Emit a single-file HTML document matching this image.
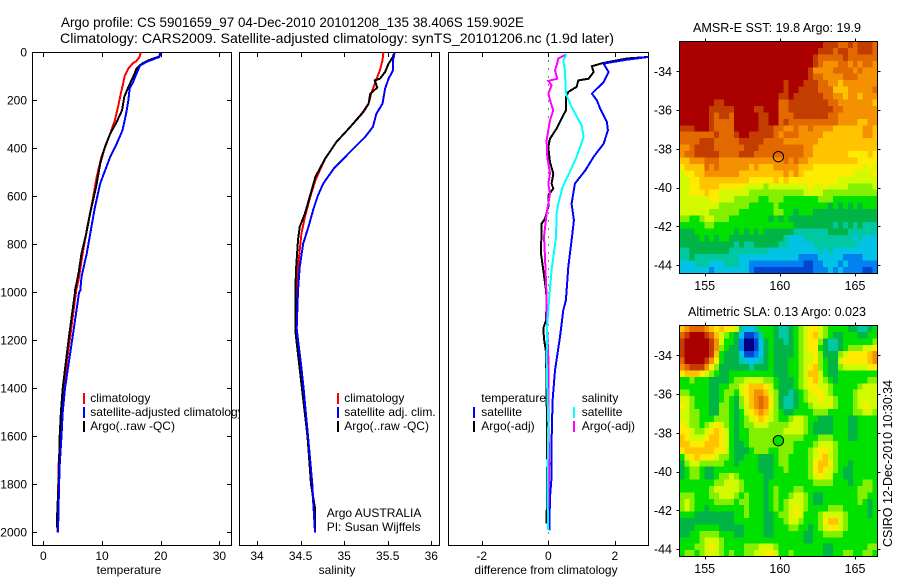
<!DOCTYPE html>
<html>
<head>
<meta charset="utf-8">
<title>Argo profile</title>
<style>
html,body{margin:0;padding:0;background:#fff;}
svg{display:block;}
text{font-family:"Liberation Sans",sans-serif;font-size:12px;fill:#000;}
</style>
</head>
<body>
<svg id="chart" xmlns="http://www.w3.org/2000/svg" width="900" height="580" viewBox="0 0 900 580">
<rect x="0" y="0" width="900" height="580" fill="#fff"/>
<text x="61" y="27" style="font-size:14px" textLength="463" lengthAdjust="spacingAndGlyphs">Argo profile: CS 5901659_97 04-Dec-2010 20101208_135 38.406S 159.902E</text>
<text x="60" y="43" style="font-size:14px" textLength="554" lengthAdjust="spacingAndGlyphs">Climatology: CARS2009. Satellite-adjusted climatology: synTS_20101206.nc (1.9d later)</text>
<g id="layer-panels"></g>
<g id="layer-maps"></g>
<text x="693" y="32" textLength="168" lengthAdjust="spacingAndGlyphs" style="font-size:12.5px">AMSR-E SST: 19.8 Argo: 19.9</text>
<text x="688" y="316" textLength="178" lengthAdjust="spacingAndGlyphs" style="font-size:12.5px">Altimetric SLA: 0.13 Argo: 0.023</text>
<text transform="translate(892,547) rotate(-90)" x="0" y="0" textLength="167" lengthAdjust="spacingAndGlyphs" style="font-size:12.5px">CSIRO 12-Dec-2010 10:30:34</text>
</svg>
<script>
// ---------- profile data ----------
const depthTicks = [0,200,400,600,800,1000,1200,1400,1600,1800,2000];
const tempTicks = [0,10,20,30];
const salTicks = [34,34.5,35,35.5,36];
const diffTicks = [-2,0,2];

const climTempDepth = [0,19,36,47,68,96,131,172,221,283,339,436,519,617,728,825,950,992,1200,1400,1500,1600,1720,2000];
const climTemp = [16.6,16.4,15.9,15.2,14.5,13.9,13.6,13.2,12.8,12.2,11.4,9.9,9.1,8.4,7.5,6.8,6.0,5.6,4.5,3.4,3.1,2.9,2.6,2.4];
const satTempDepth = [0,19,40,54,82,124,151,200,256,325,381,436,513,547,644,728,839,936,992,1000,1200,1400,1500,1600,1720,1800,2000];
const satTemp = [20.0,19.8,17.6,16.5,16.0,15.3,14.7,14.5,14.1,13.5,12.5,11.4,10.2,9.7,8.8,8.2,7.4,6.5,6.3,6.1,4.9,3.7,3.3,3.1,2.8,2.7,2.5];
const argoTempDepth = [0,17,31,47,68,103,144,186,242,290,339,394,464,561,658,756,839,922,992,1000,1200,1400,1500,1600,1700,1800,1900,1980];
const argoTemp = [19.9,19.8,18.2,16.8,15.9,15.3,14.5,13.8,13.4,12.5,11.4,10.5,9.7,9.0,8.1,7.3,6.5,6.0,5.4,5.4,4.3,3.3,3.0,2.8,2.7,2.6,2.4,2.3];

const climSalDepth = [0,33,75,131,172,214,256,311,374,444,533,603,686,756,894,992,1150,1200,1300,1400,1500,1600,1700,1800,1900,2000];
const climSal = [35.45,35.44,35.41,35.35,35.31,35.28,35.20,35.07,34.91,34.78,34.67,34.61,34.55,34.51,34.47,34.455,34.45,34.47,34.49,34.53,34.56,34.585,34.61,34.63,34.65,34.665];
const satSalDepth = [0,33,75,110,151,214,256,311,353,429,485,547,596,651,728,797,894,992,1150,1200,1300,1400,1500,1600,1700,1800,1900,2000];
const satSal = [35.58,35.56,35.56,35.51,35.47,35.44,35.37,35.33,35.24,35.03,34.88,34.76,34.70,34.65,34.59,34.53,34.49,34.47,34.455,34.47,34.505,34.535,34.56,34.585,34.61,34.635,34.65,34.665];
const argoSalDepth = [6,19,47,82,110,117,147,172,214,249,311,374,444,519,596,672,728,783,894,992,1160,1600,1700,1800,1900,2000];
const argoSal = [35.57,35.56,35.51,35.47,35.41,35.35,35.38,35.30,35.28,35.22,35.07,34.91,34.78,34.67,34.61,34.55,34.49,34.47,34.45,34.44,34.44,34.58,34.60,34.62,34.665,34.665];

const diffArgoTempDepth = [19,26,44,58,82,110,117,144,165,186,242,276,318,360,394,457,506,547,568,596,644,693,714,839,908,992,1033,1117,1150,1193,1249,1408,1714,1964];
const diffArgoTemp = [3.02,2.36,1.66,1.31,1.36,1.21,0.90,0.85,0.60,0.53,0.53,0.40,0.25,0.05,0,0.05,0.15,0.10,0.15,0,0,-0.10,-0.20,-0.22,-0.15,-0.07,-0.05,-0.07,-0.15,-0.13,-0.07,-0.05,-0.03,-0.05];
const diffSatTempDepth = [19,31,47,82,124,172,200,235,290,325,381,436,492,547,631,700,783,894,1033,1075,1186,1325,1450,1617,1769,1853,1992];
const diffSatTemp = [3.02,2.36,1.66,1.81,1.66,1.31,1.46,1.56,1.76,1.79,1.66,1.36,1.11,0.80,0.70,0.77,0.70,0.60,0.53,0.45,0.35,0.20,0.13,0.10,0.10,0.05,0.03];
const diffArgoSalDepth = [8,26,54,75,110,119,138,172,207,242,283,367,436,506,547,589,672,769,853,1019,1103,1269,1547,1714,1900];
const diffArgoSal = [0.55,0.30,0.25,0.20,0.27,0,0.10,0,0.07,0.15,0.05,-0.05,-0.03,0.05,0,0.05,-0.05,-0.13,-0.10,-0.05,-0.05,0,0,0.03,0];
const diffSatSalDepth = [8,33,75,172,228,304,353,436,512,561,631,672,769,908,1019,1131,1269,1408,1547,1825,1992];
const diffSatSal = [0.55,0.45,0.50,0.53,0.70,1.0,1.06,0.85,0.60,0.43,0.30,0.25,0.23,0.10,0.03,-0.03,-0.05,-0.03,0,-0.03,0];

// ---------- map data: colour-scale level per grid cell (north to south) ----------
const lonTicks = [155,160,165];
const latTicks = [-34,-36,-38,-40,-42,-44];
const sstLevels = [
[14,14,14,14,14,14,14,14,14,14,14,14,14,14,14,14,14,14,14,14,14,14,14,14,14,14,14,14,14,13,13,13,12,12,13,12,13,13,13,12],
[14,14,14,14,14,14,14,14,14,14,14,14,14,14,14,14,14,14,14,14,14,14,14,14,14,14,14,14,13,13,13,12,13,13,12,12,13,13,13,12],
[14,14,14,14,14,14,14,14,14,14,14,14,14,14,14,14,14,14,14,14,14,14,14,14,14,14,14,13,12,12,12,12,12,13,12,12,12,12,12,12],
[14,14,14,14,14,14,14,14,14,14,14,14,14,14,14,14,14,14,14,14,14,14,14,14,14,14,14,13,12,11,11,11,12,12,11,12,11,12,12,11],
[14,14,14,14,14,14,14,14,14,14,14,14,14,14,14,14,14,14,14,14,14,14,14,14,14,14,13,11,11,11,11,12,12,12,12,11,12,11,11,11],
[14,14,14,14,14,14,14,14,14,14,14,14,14,14,14,14,14,14,14,14,14,14,14,14,14,14,13,12,12,11,11,11,11,12,12,12,11,11,11,11],
[14,14,14,14,14,14,14,14,14,14,14,14,14,14,14,14,14,14,14,14,14,13,14,14,14,13,13,13,12,12,11,11,10,11,11,11,11,11,11,11],
[14,14,14,14,14,14,14,14,14,14,14,14,14,14,14,14,14,14,14,14,14,13,14,14,13,13,13,13,12,12,12,10,10,10,11,11,11,11,11,12],
[14,14,14,14,14,14,14,14,14,14,14,14,14,14,14,14,14,14,14,14,13,13,14,13,13,13,13,13,13,12,12,11,11,10,11,11,10,11,11,11],
[14,14,14,14,14,14,14,13,13,14,14,14,14,14,14,14,14,14,14,14,12,12,13,13,13,13,13,13,13,13,12,12,11,11,11,11,11,11,11,10],
[14,14,14,14,14,14,13,13,13,13,13,14,14,14,14,13,13,14,14,14,12,12,13,13,13,13,13,13,13,13,13,12,12,11,11,11,11,11,11,11],
[14,14,14,14,14,14,13,12,13,13,12,14,14,14,14,14,13,13,14,14,12,12,12,13,13,13,13,13,13,13,12,12,11,11,11,11,11,11,11,11],
[14,14,14,14,14,14,13,12,12,12,12,14,14,14,14,14,13,13,14,14,12,13,12,12,12,12,12,12,12,12,12,12,11,11,11,11,10,10,11,11],
[13,13,13,14,14,14,13,12,12,12,12,14,14,14,14,14,13,13,13,12,12,11,11,12,11,11,12,11,11,11,11,10,10,10,10,10,10,11,11,10],
[12,12,12,12,12,12,12,13,12,12,12,13,14,14,13,13,13,13,13,12,11,12,12,12,11,11,11,11,11,10,10,10,10,10,10,10,10,11,11,10],
[12,12,12,12,13,13,13,12,12,12,12,12,13,13,13,13,13,12,12,12,12,11,11,11,11,11,11,11,10,10,10,10,10,10,10,10,10,10,10,10],
[11,11,12,13,13,13,13,12,12,12,12,12,12,13,13,13,12,12,12,12,12,12,12,12,12,11,11,10,10,10,10,10,10,10,10,10,10,10,10,10],
[11,12,12,13,13,13,13,13,12,12,12,12,13,13,13,12,12,12,12,12,12,12,12,12,12,11,11,10,10,10,10,10,10,10,9,9,9,9,10,9],
[10,10,11,11,11,12,12,12,11,11,11,11,11,11,11,11,11,11,11,11,11,12,11,12,11,11,10,10,10,10,10,10,10,10,10,10,9,9,9,9],
[9,10,10,10,10,12,11,12,11,11,11,11,11,11,10,11,10,10,10,11,11,11,11,11,10,10,10,9,9,9,9,9,9,9,9,9,9,8,9,8],
[8,9,9,10,10,11,11,11,11,11,11,11,10,10,10,10,10,10,10,10,10,11,10,11,10,9,9,9,9,9,9,9,9,9,9,8,8,8,8,9],
[8,8,9,9,10,10,10,10,10,10,10,10,10,10,9,9,9,9,9,10,9,10,9,9,9,9,9,9,9,9,9,9,8,8,8,8,8,8,8,8],
[8,8,9,9,10,10,10,10,9,9,9,9,9,8,8,8,8,7,8,8,8,8,8,8,8,8,9,8,8,9,8,8,8,8,7,7,7,7,7,8],
[8,8,9,9,9,10,9,9,8,8,8,8,8,8,7,7,7,7,7,7,7,7,7,7,7,8,8,8,8,7,7,7,7,7,7,7,7,7,7,7],
[8,8,8,8,8,8,9,9,8,8,8,7,7,7,7,7,6,6,7,7,7,6,6,6,6,6,6,6,7,7,7,6,6,6,6,6,6,6,6,6],
[8,8,8,8,8,8,8,8,7,7,7,7,7,7,6,6,6,6,6,7,6,6,6,6,6,6,6,6,6,6,5,6,5,6,5,6,5,6,6,6],
[8,8,8,8,8,8,7,7,7,7,7,7,6,6,6,6,6,6,6,7,7,6,6,5,6,6,6,5,5,5,5,5,5,5,5,5,5,5,5,5],
[7,7,6,6,7,8,8,7,7,7,6,6,6,6,6,6,6,6,5,6,5,6,5,5,5,5,5,5,5,5,5,5,5,5,5,5,5,5,5,5],
[6,6,6,6,6,7,7,6,6,6,6,6,6,6,6,6,6,6,6,6,6,6,6,5,5,5,5,5,5,5,5,4,5,4,5,4,5,4,4,4],
[5,5,5,6,6,6,6,6,6,6,6,5,6,5,6,5,6,5,5,5,5,5,5,4,4,4,4,4,4,4,5,5,5,5,4,4,4,4,4,4],
[5,5,5,5,6,5,6,5,6,6,5,5,5,5,5,5,5,5,5,5,5,4,3,3,3,4,4,4,4,4,4,4,4,4,4,3,4,3,3,3],
[5,5,5,5,5,5,5,5,5,5,5,4,5,4,4,5,5,5,5,5,4,4,3,3,3,3,3,4,4,4,4,4,4,4,4,4,3,3,3,3],
[4,4,5,5,5,5,5,5,5,5,4,4,4,4,4,4,4,4,3,3,3,3,3,3,3,3,3,3,4,3,4,3,3,3,3,3,3,3,3,3],
[4,4,5,4,4,4,4,4,4,4,4,4,3,3,3,3,3,3,3,3,3,3,3,3,2,2,2,2,3,3,3,3,3,2,2,2,2,3,3,3],
[3,3,3,4,4,4,3,3,3,4,4,4,3,3,2,2,2,2,2,2,2,2,2,2,2,1,1,2,2,3,3,3,2,3,2,2,2,2,2,2],
[3,3,3,3,3,3,2,3,3,3,3,3,3,3,2,1,1,1,1,1,1,1,1,1,1,1,1,2,2,2,3,2,3,2,2,2,2,1,1,2]
];
const slaLevels = [
[10,11,12,12,12,11,10,9,10,9,9,8,4,3,3,4,6,6,6,5,4,4,5,6,7,8,9,9,8,7,6,6,6,6,5,5,4,4,5,6],
[12,13,14,14,14,13,12,10,8,7,6,5,3,1,1,2,4,6,6,5,4,4,5,6,7,8,9,10,8,7,6,5,5,6,6,6,5,5,6,6],
[13,14,14,14,14,14,13,11,8,6,6,5,2,0,0,1,3,5,6,5,5,4,5,6,7,8,9,9,7,5,4,4,5,6,6,6,6,6,6,7],
[13,14,14,14,14,14,13,11,7,6,5,5,2,0,0,1,3,5,6,5,5,5,5,6,7,8,9,9,6,5,4,4,5,6,7,7,7,8,8,9],
[13,14,14,14,14,14,13,10,6,5,5,5,3,1,1,2,3,5,6,5,5,5,5,6,7,8,8,9,7,5,5,5,7,8,9,9,9,9,10,11],
[12,14,14,14,14,13,11,9,6,5,5,5,4,3,3,3,4,5,6,5,5,5,6,6,7,8,8,9,7,6,5,5,8,9,9,9,9,9,10,11],
[11,12,13,13,13,11,9,7,5,5,5,5,5,5,4,5,5,5,6,5,5,5,6,6,7,8,9,10,7,6,5,5,7,8,8,8,8,8,9,9],
[9,10,10,10,9,8,7,6,5,5,6,6,6,6,6,6,6,6,6,5,5,5,6,6,7,8,10,10,8,6,5,5,6,6,6,6,6,6,6,6],
[6,6,7,6,6,6,5,5,5,5,6,7,7,8,8,8,8,7,7,6,5,5,5,6,7,8,9,10,8,7,6,5,6,6,6,6,6,6,7,7],
[6,6,6,6,6,6,5,5,6,6,7,7,8,9,10,10,10,9,8,6,5,5,5,6,7,8,9,9,8,8,7,6,6,6,6,6,7,8,8,8],
[7,7,6,6,6,6,5,5,6,7,7,6,8,9,10,11,11,10,8,7,5,5,4,5,6,7,8,9,9,8,7,6,6,6,6,7,8,8,8,8],
[8,8,7,6,6,6,5,5,6,7,6,5,7,9,10,11,12,11,9,7,5,4,4,5,6,7,8,8,9,8,8,7,6,6,6,7,8,8,8,8],
[9,8,7,6,6,6,5,5,7,7,6,5,7,8,10,11,12,11,9,7,5,4,4,5,6,6,7,8,8,8,8,7,6,6,6,7,8,9,8,8],
[8,8,7,7,6,6,5,5,7,7,6,5,6,8,9,10,11,10,8,7,6,5,5,6,6,6,6,7,7,7,6,6,6,6,6,7,7,8,8,7],
[8,8,7,7,6,6,6,7,7,7,6,5,6,7,8,9,10,9,8,7,6,6,7,8,8,7,6,6,5,5,5,6,6,6,5,5,6,6,6,6],
[9,8,7,7,6,7,8,9,8,7,6,5,6,7,7,8,8,8,7,7,7,7,8,8,8,7,6,5,5,5,5,6,6,6,5,5,6,6,6,6],
[9,9,8,7,7,8,9,10,9,8,6,5,6,6,7,7,7,7,7,7,7,8,8,8,8,7,6,5,5,5,5,6,6,6,5,5,6,6,6,6],
[10,9,8,8,8,9,10,10,9,8,6,5,6,6,7,7,7,7,7,7,7,7,7,7,7,6,6,6,7,7,7,6,6,6,5,5,6,6,6,6],
[10,10,9,9,9,10,10,10,9,8,6,5,5,6,7,7,7,7,7,7,7,7,7,6,6,6,6,7,8,8,8,7,6,6,6,6,6,6,6,6],
[9,10,10,10,10,10,10,9,9,8,6,5,5,5,6,7,7,7,6,6,7,7,7,6,6,6,7,8,9,9,8,7,6,6,6,6,6,6,6,6],
[6,8,9,10,9,9,9,8,7,7,6,5,5,6,6,6,5,5,5,6,7,7,6,6,6,6,7,8,9,10,8,7,6,6,6,6,6,6,6,6],
[5,7,8,8,7,7,7,7,7,6,6,5,6,6,6,6,5,5,5,6,7,7,6,6,6,6,7,9,10,10,9,7,6,6,5,6,6,6,6,6],
[5,6,7,7,6,5,5,6,6,6,6,6,6,6,6,6,5,5,5,6,6,7,6,6,6,6,7,9,10,9,8,7,6,5,5,6,6,6,6,6],
[5,6,7,7,6,5,5,6,7,7,8,7,6,6,6,6,6,5,5,6,6,6,6,6,6,6,7,8,9,8,8,6,6,5,5,6,6,6,6,6],
[6,6,6,6,6,6,6,7,7,8,8,8,7,6,6,6,6,5,6,6,6,6,6,6,6,6,6,7,7,7,7,6,6,6,5,6,6,7,7,6],
[6,6,6,6,6,6,7,8,8,8,8,8,7,6,6,6,6,5,6,7,6,6,6,7,7,6,6,6,6,6,6,6,6,6,6,6,7,7,7,6],
[7,7,7,6,6,6,7,7,8,8,8,7,6,7,6,6,6,5,6,7,6,6,7,8,8,7,6,5,5,6,6,6,6,6,6,6,7,7,6,6],
[7,8,7,6,6,6,6,7,7,7,7,6,7,7,6,6,6,5,6,7,6,7,8,8,8,7,6,5,5,6,6,6,6,6,6,6,7,6,5,6],
[7,8,7,6,6,5,6,6,6,6,6,6,6,7,6,6,6,5,6,7,6,7,8,9,8,7,6,6,6,6,7,7,7,6,6,6,6,6,5,6],
[6,6,6,5,5,5,5,5,5,5,5,6,6,7,6,6,6,5,5,6,7,7,8,9,8,6,6,6,7,8,8,8,8,7,6,6,6,6,5,6],
[5,5,5,5,5,5,5,5,5,5,5,6,6,6,6,6,6,5,5,6,6,7,8,8,7,6,6,6,7,9,10,10,8,7,6,6,6,6,6,6],
[5,5,5,6,6,6,6,6,5,5,5,5,5,6,6,6,6,5,5,6,6,6,7,7,6,6,5,6,7,8,9,9,8,7,6,6,6,6,6,6],
[5,5,6,6,7,7,7,7,6,6,6,5,5,6,6,6,6,5,5,6,6,6,6,6,6,5,5,6,6,7,7,7,7,6,6,6,6,6,6,6],
[6,6,6,6,7,8,8,8,7,6,6,6,6,6,6,6,6,6,6,6,6,6,6,6,6,5,5,6,6,6,6,6,6,6,6,6,6,6,6,6],
[6,6,6,7,7,8,9,8,7,6,6,6,6,7,7,7,8,8,8,7,6,6,6,6,6,6,6,6,6,5,5,6,6,6,6,6,6,6,7,7],
[6,7,7,6,7,8,8,8,7,6,7,6,6,7,7,8,8,9,9,8,6,6,7,6,6,6,6,6,6,5,5,6,6,7,7,6,6,7,7,6]
];
const floatLon = 159.902;
const floatLat = -38.406;
const floatSlaLevel = 6;

// colour scale for map levels 0..14
const levelColours = ['#000082','#0046d2','#0082f0','#00c3e6','#00c8a0','#00b446','#00e100','#82f000','#d2fa00','#ffeb00','#ffc300','#f59100','#e16900','#c33c00','#aa0000'];

const NS = 'http://www.w3.org/2000/svg';
const panelsLayer = document.getElementById('layer-panels');
const mapsLayer = document.getElementById('layer-maps');

function yDepth(d){ return 52.3 + d * 0.24; }
function xTemp(v){ return 43.3 + v * 5.87; }
function xSal(v){ return 257 + (v - 34) * 87.15; }
function xDiff(v){ return 548.3 + v * 33.3; }

function make(tag, attrs, parent){
  const el = document.createElementNS(NS, tag);
  for (const k in attrs) el.setAttribute(k, attrs[k]);
  parent.appendChild(el);
  return el;
}

function drawPanel(name, left, width, xScale, ticks, withDepthTicks, axisLabel, labelX){
  const g = make('g', {}, panelsLayer);
  
  
  const bg = make('rect', {x:left, y:52.5, width:width, height:493, fill:'#fff', stroke:'#000', 'stroke-width':1, 'shape-rendering':'crispEdges'}, g);
  
  
  ticks.forEach(function(t){
    const x = Math.round(xScale(t)) + 0.5;
    const top = make('line', {x1:x, x2:x, y1:52.5, y2:57, stroke:'#000', 'shape-rendering':'crispEdges'}, g);
    
    
    const bot = make('line', {x1:x, x2:x, y1:541, y2:545.5, stroke:'#000', 'shape-rendering':'crispEdges'}, g);
    
    
    const lab = make('text', {x:xScale(t), y:560, 'text-anchor':'middle'}, g);
    
    
    lab.textContent = String(t);
  });
  if (withDepthTicks){
    depthTicks.forEach(function(d){
      const y = Math.round(yDepth(d)) + 0.5;
      const a = make('line', {x1:left, x2:left + 4.5, y1:y, y2:y, stroke:'#000', 'shape-rendering':'crispEdges'}, g);
      
      
      const b = make('line', {x1:left + width - 4.5, x2:left + width, y1:y, y2:y, stroke:'#000', 'shape-rendering':'crispEdges'}, g);
      
      
      const lab = make('text', {x:27, y:yDepth(d) + 4, 'text-anchor':'end'}, g);
      
      
      lab.textContent = String(d);
    });
  }
  const title = make('text', {x:labelX, y:574, 'text-anchor':'middle'}, g);
  
  
  title.textContent = axisLabel;
  return g;
}

function drawSeries(parent, name, xs, depths, xScale, colour){
  const pts = xs.map(function(v, i){ return xScale(v).toFixed(1) + ',' + yDepth(depths[i]).toFixed(1); }).join(' ');
  const line = make('polyline', {points:pts, fill:'none', stroke:colour, 'stroke-width':2, 'shape-rendering':'crispEdges'}, parent);
  
  
}

function legendEntry(parent, name, barX, textX, baseline, colour, label){
  if (colour){
    const bar = make('rect', {x:barX, y:baseline - 9, width:2, height:11, fill:colour, 'shape-rendering':'crispEdges'}, parent);
    
    
  }
  const t = make('text', {x:textX, y:baseline}, parent);
  
  
  t.textContent = label;
}

// temperature panel
const pT = drawPanel('temperature', 32.5, 199, xTemp, tempTicks, true, 'temperature', 129);
drawSeries(pT, 'temperature-climatology-line', climTemp, climTempDepth, xTemp, '#ff0000');
drawSeries(pT, 'temperature-argo-line', argoTemp, argoTempDepth, xTemp, '#000000');
drawSeries(pT, 'temperature-satellite-line', satTemp, satTempDepth, xTemp, '#0000ff');
legendEntry(pT, 'legend-climatology', 83, 90.3, 402, '#ff0000', 'climatology');
legendEntry(pT, 'legend-satellite-adjusted', 83, 90.3, 416, '#0000ff', 'satellite-adjusted climatology');
legendEntry(pT, 'legend-argo', 83, 90.3, 430, '#000000', 'Argo(..raw -QC)');

// salinity panel
const pS = drawPanel('salinity', 239.5, 200, xSal, salTicks, false, 'salinity', 337);
drawSeries(pS, 'salinity-climatology-line', climSal, climSalDepth, xSal, '#ff0000');
drawSeries(pS, 'salinity-argo-line', argoSal, argoSalDepth, xSal, '#000000');
drawSeries(pS, 'salinity-satellite-line', satSal, satSalDepth, xSal, '#0000ff');
legendEntry(pS, 'legend-sal-climatology', 337, 344.3, 402, '#ff0000', 'climatology');
legendEntry(pS, 'legend-sal-satellite', 337, 344.3, 416, '#0000ff', 'satellite adj. clim.');
legendEntry(pS, 'legend-sal-argo', 337, 344.3, 430, '#000000', 'Argo(..raw -QC)');
legendEntry(pS, 'argo-australia-note', 0, 326.7, 517, null, 'Argo AUSTRALIA');
legendEntry(pS, 'pi-name-note', 0, 326.7, 531, null, 'PI: Susan Wijffels');

// difference panel
const pD = drawPanel('difference', 448.5, 200, xDiff, diffTicks, false, 'difference from climatology', 546);
const zeroLine = make('line', {x1:xDiff(0), x2:xDiff(0), y1:52.5, y2:545.5, stroke:'#000', 'stroke-dasharray':'1 7', 'shape-rendering':'crispEdges'}, pD);


const clipD = make('clipPath', {id:'clip-diff'}, pD);
make('rect', {x:448.5, y:52.5, width:200, height:493}, clipD);
const diffLines = make('g', {'clip-path':'url(#clip-diff)'}, pD);


drawSeries(diffLines, 'diff-temperature-argo-line', diffArgoTemp, diffArgoTempDepth, xDiff, '#000000');
drawSeries(diffLines, 'diff-temperature-satellite-line', diffSatTemp, diffSatTempDepth, xDiff, '#0000ff');
drawSeries(diffLines, 'diff-salinity-argo-line', diffArgoSal, diffArgoSalDepth, xDiff, '#ff00ff');
drawSeries(diffLines, 'diff-salinity-satellite-line', diffSatSal, diffSatSalDepth, xDiff, '#00ffff');
legendEntry(pD, 'legend-temperature-heading', 0, 481.3, 402, null, 'temperature');
legendEntry(pD, 'legend-diff-temp-satellite', 473, 481.3, 416, '#0000ff', 'satellite');
legendEntry(pD, 'legend-diff-temp-argo', 473, 481.3, 430, '#000000', 'Argo(-adj)');
legendEntry(pD, 'legend-salinity-heading', 0, 581.7, 402, null, 'salinity');
legendEntry(pD, 'legend-diff-sal-satellite', 573, 581.7, 416, '#00ffff', 'satellite');
legendEntry(pD, 'legend-diff-sal-argo', 573, 581.7, 430, '#ff00ff', 'Argo(-adj)');

// maps
function xLon(lon){ return 704.7 + (lon - 155) * 15.03; }

function drawMap(name, levels, top, bottom, lat34, labelBase, markerLevel){
  const yLat = function(lat){ return lat34 + (-34 - lat) * 19.37; };
  const g = make('g', {}, mapsLayer);
  
  
  const left = 679.5, right = 877.5;
  const rows = levels.length;
  levels.forEach(function(row, r){
    const y0 = top + (bottom - top) * r / rows;
    const y1 = top + (bottom - top) * (r + 1) / rows;
    row.forEach(function(v, c){
      const x0 = left + (right - left) * c / row.length;
      const x1 = left + (right - left) * (c + 1) / row.length;
      const idx = Math.max(0, Math.min(levelColours.length - 1, Math.round(v)));
      const cell = make('rect', {x:x0.toFixed(2), y:y0.toFixed(2), width:(x1 - x0 + 0.3).toFixed(2), height:(y1 - y0 + 0.3).toFixed(2), fill:levelColours[idx], 'shape-rendering':'crispEdges'}, g);
      
      
    });
  });
  const frame = make('rect', {x:left, y:top, width:right - left, height:bottom - top, fill:'none', stroke:'#000', 'shape-rendering':'crispEdges'}, g);
  
  
  lonTicks.forEach(function(lon){
    const x = Math.round(xLon(lon)) + 0.5;
    const a = make('line', {x1:x, x2:x, y1:top - 3, y2:top, stroke:'#000', 'shape-rendering':'crispEdges'}, g);
    
    
    const b = make('line', {x1:x, x2:x, y1:bottom, y2:bottom + 3, stroke:'#000', 'shape-rendering':'crispEdges'}, g);
    
    
    const lab = make('text', {x:xLon(lon), y:labelBase, 'text-anchor':'middle', style:'font-size:12.5px'}, g);
    
    
    lab.textContent = String(lon);
  });
  latTicks.forEach(function(lat){
    const y = Math.round(yLat(lat)) + 0.5;
    const a = make('line', {x1:left - 3, x2:left, y1:y, y2:y, stroke:'#000', 'shape-rendering':'crispEdges'}, g);
    
    
    const b = make('line', {x1:right, x2:right + 3, y1:y, y2:y, stroke:'#000', 'shape-rendering':'crispEdges'}, g);
    
    
    const lab = make('text', {x:672, y:yLat(lat) + 4.5, 'text-anchor':'end', style:'font-size:12.5px'}, g);
    
    
    lab.textContent = String(lat);
  });
  const fill = markerLevel === null ? 'none' : levelColours[markerLevel];
  const marker = make('circle', {cx:xLon(floatLon), cy:yLat(floatLat), r:5.2, fill:fill, stroke:'#000', 'stroke-width':1}, g);
  
  
}

drawMap('sst', sstLevels, 41.5, 273.5, 71.3, 290, null);
drawMap('sla', slaLevels, 325.5, 556.5, 355.3, 573, floatSlaLevel);
</script>
</body>
</html>
